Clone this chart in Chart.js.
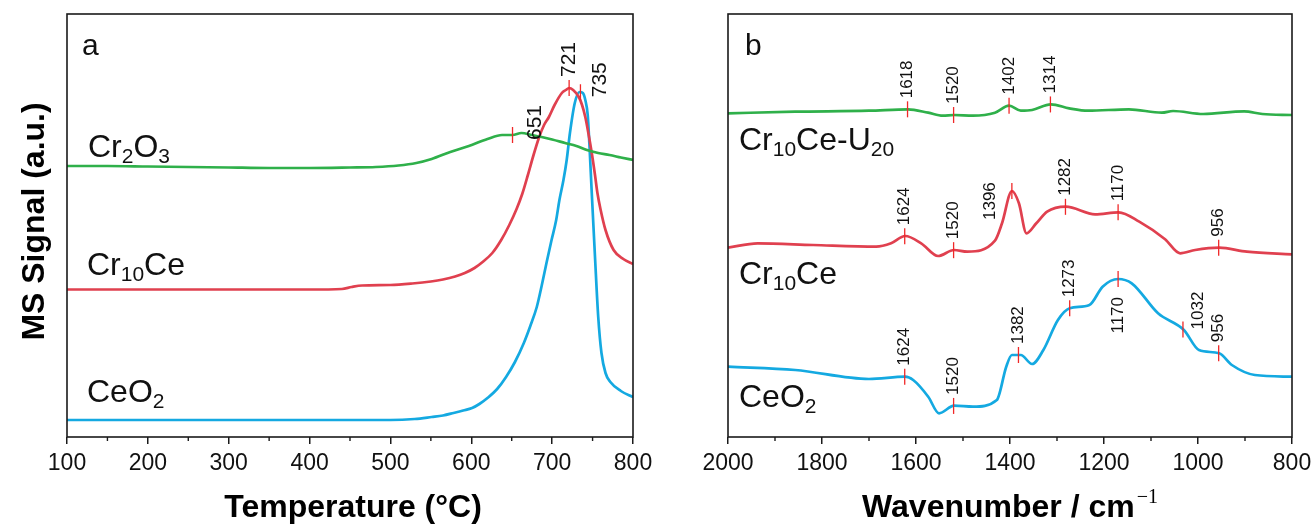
<!DOCTYPE html>
<html><head><meta charset="utf-8">
<script src="https://cdn.jsdelivr.net/npm/chart.js@4.4.1/dist/chart.umd.min.js"></script>
<style>
html,body{margin:0;padding:0;background:#fff;}
#wrap{position:relative;width:1312px;height:524px;overflow:hidden;background:#fff;}
#ca{position:absolute;left:0;top:0;width:660px;height:524px;}
#cb{position:absolute;left:660px;top:0;width:670px;height:524px;}
</style></head><body>
<div id="wrap">
<canvas id="ca" width="660" height="524"></canvas>
<canvas id="cb" width="670" height="524"></canvas>
</div>
<script>
// ---------- Panel a: MS signal vs temperature ----------
const cr2o3T      = [100,150,200,250,300,350,400,450,482,510,532,551,574,597,620,638,651,662,675,687,700,716,730,743,757,771,785,800];
const cr2o3Signal = [271,271,270.5,270,269.5,269,269,269.5,270,271.5,274,278,285,291,298,302,302,304,302,300,297.5,294,291,287,284,282,279.5,277];

const cr10ceT      = [100,200,300,400,440,452,465,500,527,550,565,580,592,604,614,626,637,647,656,663,670,677,684,690,696,703,712,717,721,726,733,737,741,745,749,753,756,760,766,776,788,800];
const cr10ceSignal = [147.5,147.5,147.5,147.5,148,150,151.5,152,153.5,155.5,157.5,160.5,164,169,175,184,197,212,228,243,262,282,300,312,320,332,344,347,349,347,340,332,320,303,284,262,244,227,207,187,178,173];

const ceo2T      = [100,200,300,400,500,530,551,565,578,590,601,610,620,632,643,654,665,673,681,687,693,699,705,709,714,718,722,728,734,738,741,744,746,749,753,757,761,766,772,785,800];
const ceo2Signal = [17,17,17,17,17,18,20,21.5,24,26.5,29,33,39,48,60,75,94,111,130,151,174,196,217,237,257,277,304,334,345,344,337,322,294,244,180,120,84,64,55,46,40];

const tempTicks = [100,200,300,400,500,600,700,800];
const peaksA = { 'Cr2O3': [651], 'Cr10Ce': [721], 'CeO2': [735] };

// ---------- Panel b: spectra vs wavenumber ----------
const u20Wn  = [2000,1857,1700,1617,1574,1543,1519,1479,1432,1402,1377,1353,1313,1274,1234,1147,1077,1053,989,902,863,800];
const u20Abs = [323.7,325.3,326.3,327.7,324.3,321.3,322,321.3,324.3,331.3,326.3,327,332.7,328.7,326.3,327.7,324.3,326,323,325.7,323,322];

const cr10ceWn  = [2000,1937,1819,1685,1653,1623,1589,1553,1519,1491,1432,1417,1396,1381,1365,1344,1321,1281,1219,1169,1125,1070,1038,1006,955,896,800];
const cr10ceAbs = [189.3,193.7,192,190.3,193.7,201,193.7,181,187,185.3,196.3,213.7,246,233.7,203.7,213.7,225.3,230.3,222.7,224.7,215.3,197.7,183.7,187,189.3,185.3,182.7];

const ceo2Wn  = [2000,1857,1700,1623,1606,1574,1551,1519,1479,1428,1408,1396,1377,1353,1329,1298,1273,1231,1203,1170,1141,1085,1030,998,955,928,879,800];
const ceo2Abs = [70.3,67,58,60.3,57,40.3,23.7,31.3,30.3,37,70.3,82,82,73,87,117,128.7,132,150.3,158,153.7,123.7,107,87,83.7,72,62,60.3];

const wnTicks = [2000,1800,1600,1400,1200,1000,800];
const peaksB = {
  'Cr10Ce-U20': [1618,1520,1402,1314],
  'Cr10Ce': [1624,1520,1396,1282,1170,956],
  'CeO2': [1624,1520,1382,1273,1170,1032,956]
};

// ---------- styles ----------
const FONT = '"Liberation Sans", Arial, Helvetica, sans-serif';
const GREEN = '#2fb04a', RED = '#e0404f', BLUE = '#14a9e1', MARK = '#f02828', INK = '#1a1a1a';

// label placement overrides (offsets in px)
const placeA = { 'CeO2:735': {dx:20, dy:5, side:'up'}, 'Cr2O3:651': {dx:23, dy:5, side:'up'} };
const placeB = { 'Cr10Ce:1396': {dx:-22, dy:29, side:'up'}, 'CeO2:1170': {dx:0, dy:18, side:'down'}, 'CeO2:1032': {dx:15, dy:0, side:'up'} };

function interp(xs, ys, x){
  for (let i=0;i<xs.length-1;i++){
    const a=xs[i], b=xs[i+1];
    if ((x-a)*(x-b)<=0){ const t=(x-a)/(b-a); return ys[i]+t*(ys[i+1]-ys[i]); }
  }
  return ys[ys.length-1];
}
function pts(xs, ys){ return xs.map((x,i)=>({x:x, y:ys[i]})); }

function drawRich(ctx, str, x, y, size, weight){
  const parts = str.split(/(_\{[^}]*\})/).filter(s=>s.length);
  let cx = x;
  for (const p of parts){
    let t=p, sz=size, dy=0;
    if (p.startsWith('_{')){ t=p.slice(2,-1); sz=Math.round(size*0.65); dy=size*0.2; }
    ctx.font = `${weight} ${sz}px ${FONT}`;
    ctx.fillText(t, cx, y+dy);
    cx += ctx.measureText(t).width;
  }
  return cx - x;
}

function makePlugin(cfg){
  return {
    id: 'deco'+cfg.id,
    afterDatasetsDraw(chart){
      const ctx = chart.ctx, ca = chart.chartArea;
      const xs = chart.scales.x, ys = chart.scales.y;
      ctx.save();
      // frame
      ctx.strokeStyle = INK; ctx.lineWidth = 1.6;
      ctx.strokeRect(ca.left, ca.top, ca.right-ca.left, ca.bottom-ca.top);
      // minor ticks
      ctx.lineWidth = 1.4;
      const lo = Math.min(xs.min, xs.max), hi = Math.max(xs.min, xs.max);
      for (let v=lo; v<=hi; v+=cfg.minor){
        if ((v-lo) % cfg.major === 0) continue;
        const px = xs.getPixelForValue(v);
        ctx.beginPath(); ctx.moveTo(px, ca.bottom); ctx.lineTo(px, ca.bottom+4); ctx.stroke();
      }
      // peak marks and labels
      chart.data.datasets.forEach(ds=>{
        const list = cfg.peaks[ds.label] || [];
        list.forEach(pk=>{
          const val = interp(ds.xsrc, ds.ysrc, pk);
          const px = xs.getPixelForValue(pk), py = ys.getPixelForValue(val);
          ctx.strokeStyle = MARK; ctx.lineWidth = 1.3;
          ctx.beginPath(); ctx.moveTo(px, py-8); ctx.lineTo(px, py+8); ctx.stroke();
          const o = cfg.place[ds.label+':'+pk] || {dx:0, dy:-11, side:'up'};
          ctx.fillStyle = '#111';
          ctx.font = `${cfg.peakFont}px ${FONT}`;
          ctx.save();
          ctx.translate(px+o.dx, py+o.dy);
          ctx.rotate(-Math.PI/2);
          ctx.textAlign = o.side==='down' ? 'right' : 'left';
          ctx.textBaseline = 'middle';
          ctx.fillText(String(pk), 0, 0);
          ctx.restore();
        });
      });
      // curve names
      ctx.fillStyle = '#111'; ctx.textAlign='left'; ctx.textBaseline='alphabetic';
      cfg.names.forEach(n=>{ drawRich(ctx, n.text, ca.left+n.dx, n.y, 32, 'normal'); });
      // panel letter
      ctx.font = `30px ${FONT}`;
      ctx.fillText(cfg.letter, ca.left+cfg.letterDx, 55);
      // x title
      ctx.fillStyle = '#000';
      ctx.font = `bold 32px ${FONT}`;
      const cxm = (ca.left+ca.right)/2;
      if (cfg.sup){
        const w1 = ctx.measureText(cfg.xTitle).width;
        ctx.font = `20px "Liberation Serif", "Times New Roman", serif`;
        const w2 = ctx.measureText(cfg.sup).width;
        const x0 = cxm - (w1+w2+2)/2;
        ctx.font = `bold 32px ${FONT}`;
        ctx.fillText(cfg.xTitle, x0, 517);
        ctx.font = `20px "Liberation Serif", "Times New Roman", serif`;
        ctx.fillText(cfg.sup, x0+w1+2, 503);
      } else {
        ctx.textAlign='center';
        ctx.fillText(cfg.xTitle, cxm + 3, 517);
      }
      // y title
      if (cfg.yTitle){
        ctx.save();
        ctx.translate(44, (ca.top+ca.bottom)/2 - 4);
        ctx.rotate(-Math.PI/2);
        ctx.textAlign='center'; ctx.textBaseline='alphabetic';
        ctx.font = `bold 32px ${FONT}`;
        ctx.fillText(cfg.yTitle, 0, 0);
        ctx.restore();
      }
      ctx.restore();
    }
  };
}

function ds(label, xs, ys, color){
  return { label, data: pts(xs, ys), xsrc: xs, ysrc: ys, borderColor: color, backgroundColor: color,
           borderWidth: 2.7, pointRadius: 0, fill: false, cubicInterpolationMode: 'monotone' };
}

function makeOptions(xmin, xmax, step, reverse, yWidth, padRight, tickList){
  return {
    responsive: false, animation: false, parsing: false,
    layout: { padding: { left: 0, right: padRight, top: 14, bottom: 0 } },
    plugins: { legend: { display: false }, tooltip: { enabled: false } },
    scales: {
      x: {
        type: 'linear', min: xmin, max: xmax, reverse: reverse,
        afterBuildTicks(s){ s.ticks = tickList.map(v=>({value:v})); },
        ticks: { stepSize: step, autoSkip: false, maxRotation: 0, color: '#111', padding: 6,
                 font: { family: FONT, size: 23 }, callback: v => String(v) },
        grid: { display: true, drawOnChartArea: false, drawTicks: true, tickLength: 7, color: INK, lineWidth: 1.5 },
        border: { display: false },
        afterFit(s){ s.height = 87; }
      },
      y: {
        type: 'linear', min: 0, max: 423,
        ticks: { display: false }, grid: { display: false }, border: { display: false },
        afterFit(s){ s.width = yWidth; }
      }
    }
  };
}

new Chart(document.getElementById('ca'), {
  type: 'line',
  data: { datasets: [
    ds('Cr2O3', cr2o3T, cr2o3Signal, GREEN),
    ds('Cr10Ce', cr10ceT, cr10ceSignal, RED),
    ds('CeO2', ceo2T, ceo2Signal, BLUE)
  ]},
  options: makeOptions(100, 800, 100, false, 67, 27, tempTicks),
  plugins: [makePlugin({
    id: 'a', major: 100, minor: 50, peaks: peaksA, place: placeA, peakFont: 21,
    names: [ {text:'Cr_{2}O_{3}', dx:21, y:157}, {text:'Cr_{10}Ce', dx:20, y:275}, {text:'CeO_{2}', dx:20, y:402} ],
    letter: 'a', letterDx: 15, xTitle: 'Temperature (°C)', yTitle: 'MS Signal (a.u.)'
  })]
});

new Chart(document.getElementById('cb'), {
  type: 'line',
  data: { datasets: [
    ds('Cr10Ce-U20', u20Wn, u20Abs, GREEN),
    ds('Cr10Ce', cr10ceWn, cr10ceAbs, RED),
    ds('CeO2', ceo2Wn, ceo2Abs, BLUE)
  ]},
  options: makeOptions(800, 2000, 200, true, 68, 38, wnTicks),
  plugins: [makePlugin({
    id: 'b', major: 200, minor: 100, peaks: peaksB, place: placeB, peakFont: 17,
    names: [ {text:'Cr_{10}Ce-U_{20}', dx:11, y:150}, {text:'Cr_{10}Ce', dx:11, y:284}, {text:'CeO_{2}', dx:11, y:407} ],
    letter: 'b', letterDx: 17, xTitle: 'Wavenumber / cm', sup: '\u22121', yTitle: null
  })]
});
</script>
</body></html>
